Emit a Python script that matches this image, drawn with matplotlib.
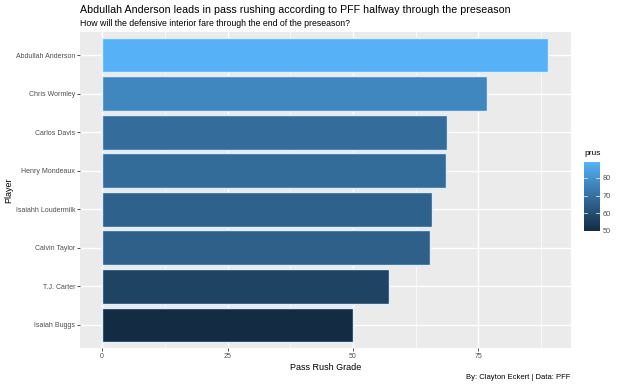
import numpy as np
import matplotlib
matplotlib.use('Agg')
import matplotlib.pyplot as plt
from matplotlib.colors import LinearSegmentedColormap, Normalize
from matplotlib.cm import ScalarMappable

## Data
players = ['Abdullah Anderson', 'Chris Wormley', 'Carlos Davis', 'Henry Mondeaux',
           'Isaiahh Loudermilk', 'Calvin Taylor', 'T.J. Carter', 'Isaiah Buggs']
prus = [88.8, 76.7, 68.8, 68.6, 65.7, 65.4, 57.1, 50.0]
xticks = [0, 25, 50, 75]

plt.rcParams['font.family'] = ['Liberation Sans', 'DejaVu Sans']

cmap = LinearSegmentedColormap.from_list('gg', ['#132B43', '#56B1F7'])
norm = Normalize(vmin=min(prus), vmax=max(prus))

fig = plt.figure(figsize=(6.2, 3.86), dpi=100)
ax = fig.add_axes([0.129, 0.0984, 0.7915, 0.8186])
ax.set_facecolor('#EBEBEB')

ypos = np.arange(len(players))[::-1]
ax.barh(ypos, prus, height=0.9, color=cmap(norm(prus)), edgecolor='#DDEEFF',
        linewidth=1.0, zorder=3)

ax.set_xlim(-4.4, 93.4)
ax.set_ylim(-0.6, len(players) - 0.4)

# grid
for v in xticks:
    ax.axvline(v, color='white', lw=1.0, zorder=1)
for v in [12.5, 37.5, 62.5, 87.5]:
    ax.axvline(v, color='white', lw=0.5, zorder=1)
for y in ypos:
    ax.axhline(y, color='white', lw=1.0, zorder=1)

ax.set_xticks(xticks)
ax.set_xticklabels([str(t) for t in xticks])
ax.set_yticks(ypos)
ax.set_yticklabels(players)
ax.tick_params(axis='both', colors='#333333', labelcolor='#4D4D4D', labelsize=5,
               length=2, width=0.6, pad=1.5)
for s in ax.spines.values():
    s.set_visible(False)

ax.set_xlabel('Pass Rush Grade', fontsize=6.5, labelpad=2)
fig.text(0.0145, 0.508, 'Player', fontsize=6.5, rotation=90, ha='center', va='center')

fig.text(0.129, 0.975, 'Abdullah Anderson leads in pass rushing according to PFF halfway through the preseason',
         fontsize=7.65, va='center', ha='left')
fig.text(0.129, 0.94, 'How will the defensive interior fare through the end of the preseason?',
         fontsize=6.35, va='center', ha='left')
fig.text(0.9205, 0.023, 'By: Clayton Eckert | Data: PFF', fontsize=5.5, ha='right', va='center')

# colorbar legend
cax = fig.add_axes([0.942, 0.4016, 0.025, 0.1779])
cb = fig.colorbar(ScalarMappable(norm=norm, cmap=cmap), cax=cax, ticks=[50, 60, 70, 80])
cb.outline.set_visible(False)
cax.tick_params(labelsize=5.3, length=0, pad=2, labelcolor='#4D4D4D')
for t in [50, 60, 70, 80]:
    cax.plot([0, 0.2], [t, t], color='white', lw=0.5)
    cax.plot([0.8, 1.0], [t, t], color='white', lw=0.5)
fig.text(0.942, 0.603, 'prus', fontsize=6, ha='left', va='center')

fig.savefig('out.png', dpi=100)
